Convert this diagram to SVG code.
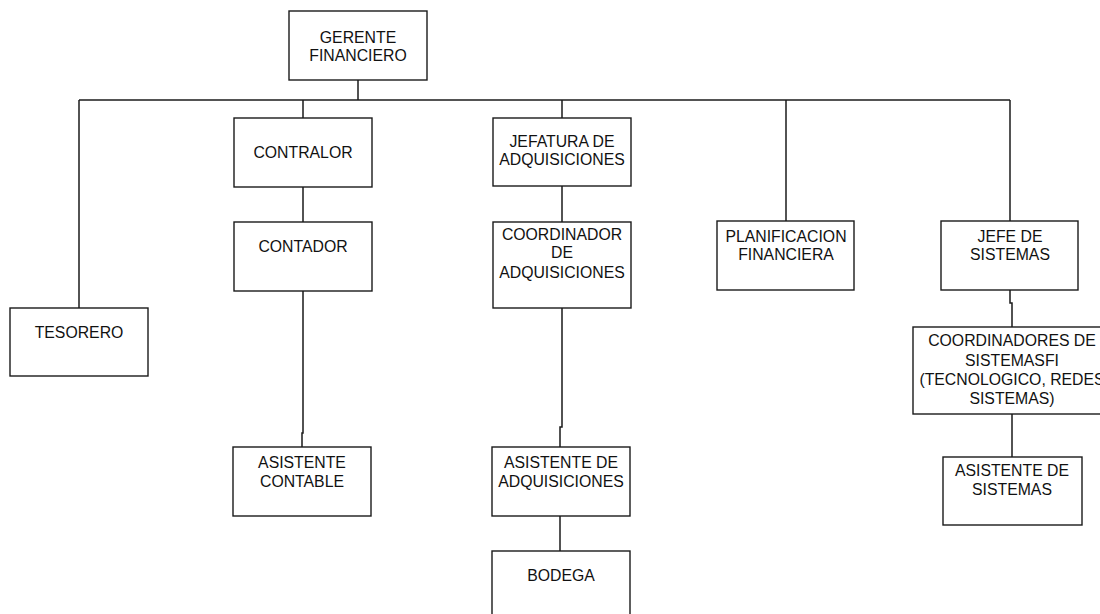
<svg xmlns="http://www.w3.org/2000/svg" width="1100" height="614" viewBox="0 0 1100 614">
  <style>
    .box { fill: #ffffff; stroke: #1a1a1a; stroke-width: 1.4; }
    .link { fill: none; stroke: #1a1a1a; stroke-width: 1.5; }
    text { font-family: "Liberation Sans", Arial, sans-serif; font-size: 15.8px; fill: #111111; text-anchor: middle; }
  </style>
  <rect width="1100" height="614" fill="#ffffff"/>

  <!-- connectors -->
  <g id="connectors">
    <path class="link" d="M358,80 V100"/>
    <path class="link" d="M79,100 H1010"/>
    <path class="link" d="M79,100 V308"/>
    <path class="link" d="M303,100 V118"/>
    <path class="link" d="M303,187 V222"/>
    <path class="link" d="M303,291 V433 H302 V447"/>
    <path class="link" d="M562,100 V118"/>
    <path class="link" d="M562,186 V222"/>
    <path class="link" d="M562,308 V427 H560 V447"/>
    <path class="link" d="M560,516 V551"/>
    <path class="link" d="M786,100 V221"/>
    <path class="link" d="M1010,100 V221"/>
    <path class="link" d="M1010,290 V303 H1012 V327"/>
    <path class="link" d="M1012,414 V457"/>
  </g>

  <g id="gerente-financiero">
    <rect class="box" x="289" y="11" width="138" height="69"/>
    <text x="358" y="43">GERENTE</text>
    <text x="358" y="61">FINANCIERO</text>
  </g>

  <g id="tesorero">
    <rect class="box" x="10" y="308" width="138" height="68"/>
    <text x="79" y="338">TESORERO</text>
  </g>

  <g id="contralor">
    <rect class="box" x="234" y="118" width="138" height="69"/>
    <text x="303" y="158">CONTRALOR</text>
  </g>

  <g id="contador">
    <rect class="box" x="234" y="222" width="138" height="69"/>
    <text x="303" y="252">CONTADOR</text>
  </g>

  <g id="asistente-contable">
    <rect class="box" x="233" y="447" width="138" height="69"/>
    <text x="302" y="468">ASISTENTE</text>
    <text x="302" y="487">CONTABLE</text>
  </g>

  <g id="jefatura-adquisiciones">
    <rect class="box" x="493" y="118" width="138" height="68"/>
    <text x="562" y="147">JEFATURA DE</text>
    <text x="562" y="165">ADQUISICIONES</text>
  </g>

  <g id="coordinador-adquisiciones">
    <rect class="box" x="493" y="222" width="138" height="86"/>
    <text x="562" y="240">COORDINADOR</text>
    <text x="562" y="258">DE</text>
    <text x="562" y="278">ADQUISICIONES</text>
  </g>

  <g id="asistente-adquisiciones">
    <rect class="box" x="492" y="447" width="138" height="69"/>
    <text x="561" y="468">ASISTENTE DE</text>
    <text x="561" y="487">ADQUISICIONES</text>
  </g>

  <g id="bodega">
    <rect class="box" x="492" y="551" width="138" height="70"/>
    <text x="561" y="581">BODEGA</text>
  </g>

  <g id="planificacion-financiera">
    <rect class="box" x="717" y="221" width="137" height="69"/>
    <text x="786" y="242">PLANIFICACION</text>
    <text x="786" y="260">FINANCIERA</text>
  </g>

  <g id="jefe-sistemas">
    <rect class="box" x="941" y="221" width="137" height="69"/>
    <text x="1010" y="242">JEFE DE</text>
    <text x="1010" y="260">SISTEMAS</text>
  </g>

  <g id="coordinadores-sistemas">
    <rect class="box" x="913" y="327" width="198" height="87"/>
    <text x="1012" y="346">COORDINADORES DE</text>
    <text x="1012" y="366">SISTEMASFI</text>
    <text x="1012" y="385">(TECNOLOGICO, REDES</text>
    <text x="1012" y="404">SISTEMAS)</text>
  </g>

  <g id="asistente-sistemas">
    <rect class="box" x="943" y="457" width="139" height="68"/>
    <text x="1012" y="476">ASISTENTE DE</text>
    <text x="1012" y="495">SISTEMAS</text>
  </g>
</svg>
